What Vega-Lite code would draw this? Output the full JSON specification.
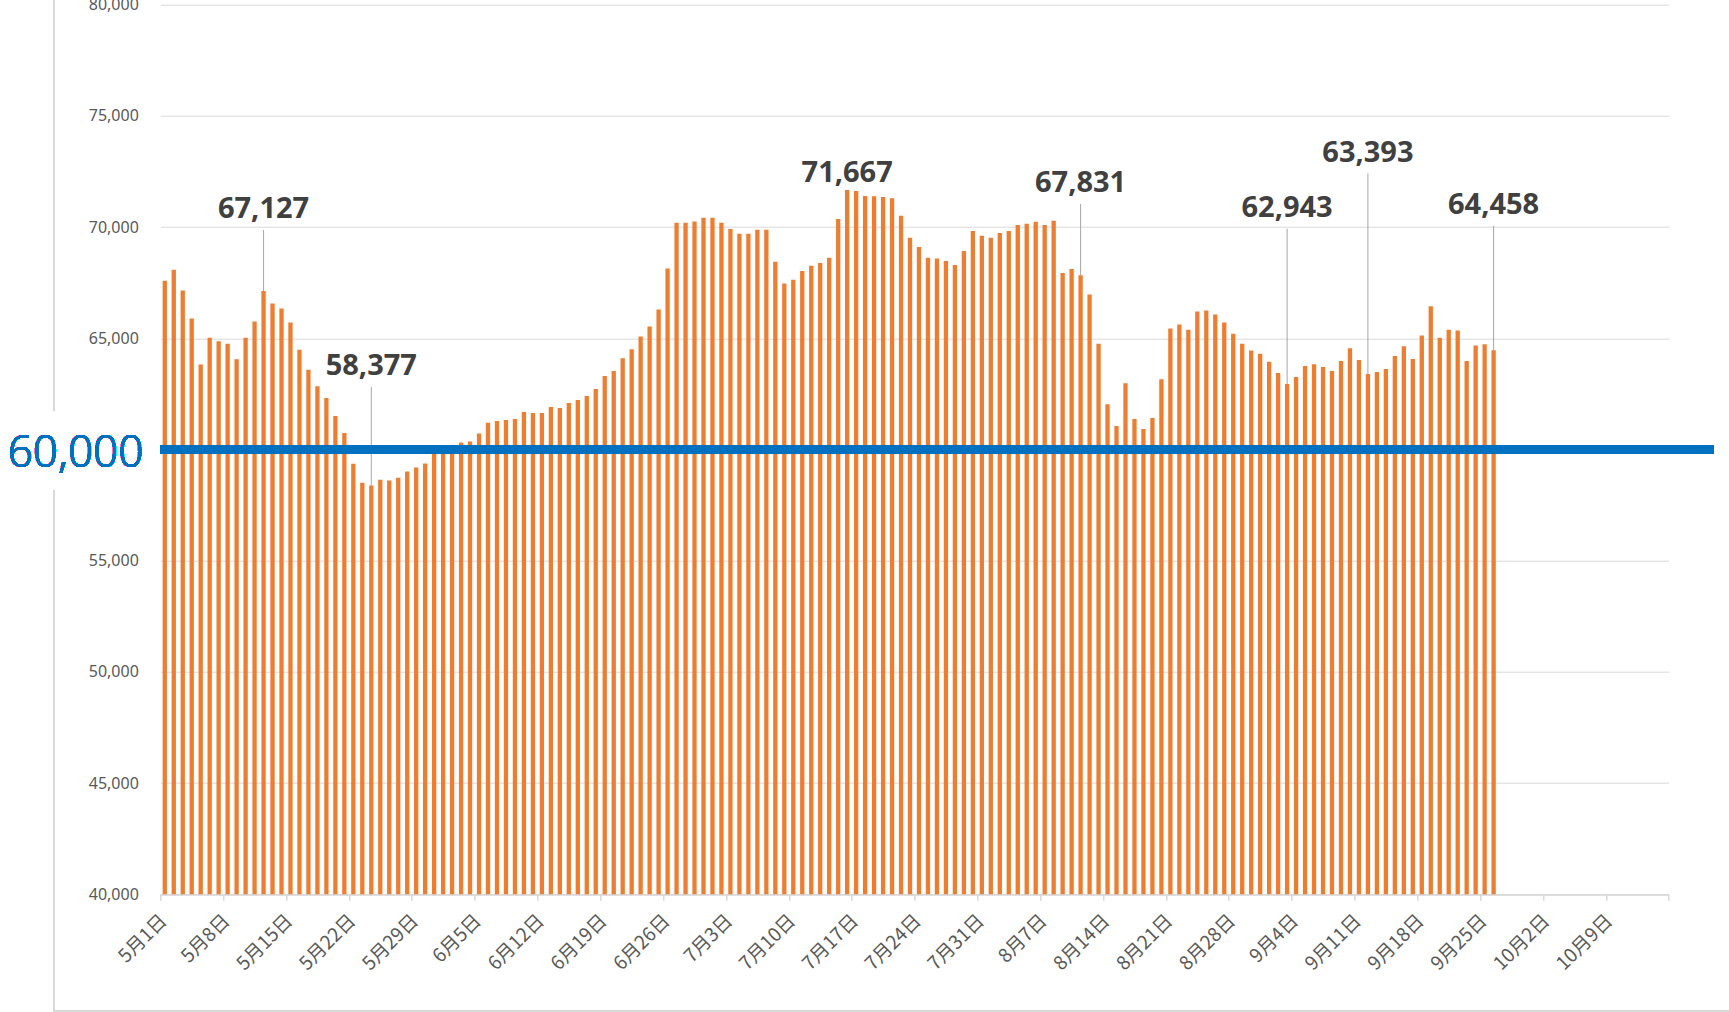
{
  "$schema": "https://vega.github.io/schema/vega-lite/v6.json",
  "width": 1508.4,
  "height": 889.6,
  "autosize": "none",
  "padding": {"left": 160.3, "top": 4.7, "right": 60.3, "bottom": 117.7},
  "background": "white",
  "config": {"view": {"stroke": null}},
  "data": {"values": [
    {"date": "2022/05/01", "v": 67590}, {"date": "2022/05/02", "v": 68080}, {"date": "2022/05/03", "v": 67150},
    {"date": "2022/05/04", "v": 65890}, {"date": "2022/05/05", "v": 63820}, {"date": "2022/05/06", "v": 65030},
    {"date": "2022/05/07", "v": 64870}, {"date": "2022/05/08", "v": 64760}, {"date": "2022/05/09", "v": 64060},
    {"date": "2022/05/10", "v": 65030}, {"date": "2022/05/11", "v": 65750}, {"date": "2022/05/12", "v": 67127, "labelAt": 69870},
    {"date": "2022/05/13", "v": 66560}, {"date": "2022/05/14", "v": 66340}, {"date": "2022/05/15", "v": 65710},
    {"date": "2022/05/16", "v": 64490}, {"date": "2022/05/17", "v": 63590}, {"date": "2022/05/18", "v": 62840},
    {"date": "2022/05/19", "v": 62320}, {"date": "2022/05/20", "v": 61510}, {"date": "2022/05/21", "v": 60740},
    {"date": "2022/05/22", "v": 59360}, {"date": "2022/05/23", "v": 58510}, {"date": "2022/05/24", "v": 58377, "labelAt": 62812},
    {"date": "2022/05/25", "v": 58640}, {"date": "2022/05/26", "v": 58610}, {"date": "2022/05/27", "v": 58730},
    {"date": "2022/05/28", "v": 59010}, {"date": "2022/05/29", "v": 59190}, {"date": "2022/05/30", "v": 59370},
    {"date": "2022/05/31", "v": 59900},
    {"date": "2022/06/01", "v": 59950}, {"date": "2022/06/02", "v": 60200}, {"date": "2022/06/03", "v": 60320},
    {"date": "2022/06/04", "v": 60360}, {"date": "2022/06/05", "v": 60720}, {"date": "2022/06/06", "v": 61200},
    {"date": "2022/06/07", "v": 61280}, {"date": "2022/06/08", "v": 61330}, {"date": "2022/06/09", "v": 61370},
    {"date": "2022/06/10", "v": 61690}, {"date": "2022/06/11", "v": 61640}, {"date": "2022/06/12", "v": 61640},
    {"date": "2022/06/13", "v": 61910}, {"date": "2022/06/14", "v": 61870}, {"date": "2022/06/15", "v": 62090},
    {"date": "2022/06/16", "v": 62230}, {"date": "2022/06/17", "v": 62410}, {"date": "2022/06/18", "v": 62720},
    {"date": "2022/06/19", "v": 63310}, {"date": "2022/06/20", "v": 63530}, {"date": "2022/06/21", "v": 64100},
    {"date": "2022/06/22", "v": 64510}, {"date": "2022/06/23", "v": 65080}, {"date": "2022/06/24", "v": 65530},
    {"date": "2022/06/25", "v": 66290}, {"date": "2022/06/26", "v": 68140}, {"date": "2022/06/27", "v": 70190},
    {"date": "2022/06/28", "v": 70190}, {"date": "2022/06/29", "v": 70250}, {"date": "2022/06/30", "v": 70420},
    {"date": "2022/07/01", "v": 70420}, {"date": "2022/07/02", "v": 70190}, {"date": "2022/07/03", "v": 69920},
    {"date": "2022/07/04", "v": 69700}, {"date": "2022/07/05", "v": 69700}, {"date": "2022/07/06", "v": 69880},
    {"date": "2022/07/07", "v": 69880}, {"date": "2022/07/08", "v": 68440}, {"date": "2022/07/09", "v": 67460},
    {"date": "2022/07/10", "v": 67630}, {"date": "2022/07/11", "v": 68030}, {"date": "2022/07/12", "v": 68260},
    {"date": "2022/07/13", "v": 68390}, {"date": "2022/07/14", "v": 68620}, {"date": "2022/07/15", "v": 70360},
    {"date": "2022/07/16", "v": 71667, "labelAt": 71525}, {"date": "2022/07/17", "v": 71620}, {"date": "2022/07/18", "v": 71400},
    {"date": "2022/07/19", "v": 71390}, {"date": "2022/07/20", "v": 71350}, {"date": "2022/07/21", "v": 71300},
    {"date": "2022/07/22", "v": 70510}, {"date": "2022/07/23", "v": 69520}, {"date": "2022/07/24", "v": 69110},
    {"date": "2022/07/25", "v": 68620}, {"date": "2022/07/26", "v": 68590}, {"date": "2022/07/27", "v": 68480},
    {"date": "2022/07/28", "v": 68300}, {"date": "2022/07/29", "v": 68930}, {"date": "2022/07/30", "v": 69830},
    {"date": "2022/07/31", "v": 69610},
    {"date": "2022/08/01", "v": 69520}, {"date": "2022/08/02", "v": 69740}, {"date": "2022/08/03", "v": 69830},
    {"date": "2022/08/04", "v": 70100}, {"date": "2022/08/05", "v": 70150}, {"date": "2022/08/06", "v": 70240},
    {"date": "2022/08/07", "v": 70100}, {"date": "2022/08/08", "v": 70280}, {"date": "2022/08/09", "v": 67940},
    {"date": "2022/08/10", "v": 68120}, {"date": "2022/08/11", "v": 67831, "labelAt": 71040}, {"date": "2022/08/12", "v": 66970},
    {"date": "2022/08/13", "v": 64760}, {"date": "2022/08/14", "v": 62030}, {"date": "2022/08/15", "v": 61060},
    {"date": "2022/08/16", "v": 62980}, {"date": "2022/08/17", "v": 61370}, {"date": "2022/08/18", "v": 60920},
    {"date": "2022/08/19", "v": 61420}, {"date": "2022/08/20", "v": 63160}, {"date": "2022/08/21", "v": 65440},
    {"date": "2022/08/22", "v": 65620}, {"date": "2022/08/23", "v": 65390}, {"date": "2022/08/24", "v": 66200},
    {"date": "2022/08/25", "v": 66250}, {"date": "2022/08/26", "v": 66070}, {"date": "2022/08/27", "v": 65710},
    {"date": "2022/08/28", "v": 65210}, {"date": "2022/08/29", "v": 64760}, {"date": "2022/08/30", "v": 64450},
    {"date": "2022/08/31", "v": 64310},
    {"date": "2022/09/01", "v": 63950}, {"date": "2022/09/02", "v": 63440}, {"date": "2022/09/03", "v": 62943, "labelAt": 69929},
    {"date": "2022/09/04", "v": 63260}, {"date": "2022/09/05", "v": 63750}, {"date": "2022/09/06", "v": 63830},
    {"date": "2022/09/07", "v": 63710}, {"date": "2022/09/08", "v": 63530}, {"date": "2022/09/09", "v": 63980},
    {"date": "2022/09/10", "v": 64550}, {"date": "2022/09/11", "v": 64020}, {"date": "2022/09/12", "v": 63393, "labelAt": 72420},
    {"date": "2022/09/13", "v": 63480}, {"date": "2022/09/14", "v": 63620}, {"date": "2022/09/15", "v": 64200},
    {"date": "2022/09/16", "v": 64640}, {"date": "2022/09/17", "v": 64070}, {"date": "2022/09/18", "v": 65130},
    {"date": "2022/09/19", "v": 66440}, {"date": "2022/09/20", "v": 65030}, {"date": "2022/09/21", "v": 65390},
    {"date": "2022/09/22", "v": 65350}, {"date": "2022/09/23", "v": 63980}, {"date": "2022/09/24", "v": 64680},
    {"date": "2022/09/25", "v": 64730}, {"date": "2022/09/26", "v": 64458, "labelAt": 70050}
  ]},
  "layer": [
    {
      "mark": {"type": "rect", "fill": null, "stroke": "#D9D9D9", "strokeWidth": 2},
      "encoding": {
        "x": {"datum": {"year": 2022, "month": 4, "date": 19, "hours": 3, "minutes": 52}, "type": "temporal"},
        "x2": {"datum": {"year": 2022, "month": 12, "date": 31}},
        "y": {"datum": 34753, "type": "quantitative"},
        "y2": {"datum": 90000}
      }
    },
    {
      "mark": {"type": "rect", "fill": "white"},
      "encoding": {
        "x": {"datum": {"year": 2022, "month": 4, "date": 16}, "type": "temporal"},
        "x2": {"datum": {"year": 2022, "month": 4, "date": 30}},
        "y": {"datum": 58200, "type": "quantitative"},
        "y2": {"datum": 61700}
      }
    },
    {
      "transform": [{"filter": "isValid(datum.labelAt)"}],
      "mark": {"type": "rule", "color": "#A6A6A6", "strokeWidth": 1},
      "encoding": {
        "x": {"field": "date", "timeUnit": "yearmonthdate", "type": "temporal", "bandPosition": 0.5},
        "y": {"field": "labelAt", "type": "quantitative"},
        "y2": {"field": "v"}
      }
    },
    {
      "mark": {"type": "bar", "color": "#ED7D31", "width": 4.3},
      "encoding": {
        "x": {
          "field": "date", "timeUnit": "yearmonthdate", "type": "temporal", "bandPosition": 0.5,
          "scale": {"domain": [{"year": 2022, "month": 5, "date": 1}, {"year": 2022, "month": 10, "date": 16}], "nice": false},
          "axis": {
            "title": null,
            "tickCount": {"interval": "week", "step": 1},
            "labelExpr": "datum.value >= datetime(2022, 9, 16) ? '' : (month(datum.value) + 1) + '月' + date(datum.value) + '日'",
            "labelAngle": -45, "labelAlign": "right", "labelBaseline": "middle",
            "labelPadding": 17, "labelOffset": 3,
            "labelFont": "Noto Sans CJK JP", "labelFontSize": 19, "labelColor": "#595959",
            "labelOverlap": false, "labelFlush": false, "labelBound": false,
            "domainColor": "#D9D9D9", "domainWidth": 1.5,
            "tickColor": "#D9D9D9", "tickWidth": 1.5, "tickSize": 6,
            "grid": false
          }
        },
        "y": {
          "field": "v", "type": "quantitative",
          "scale": {"domain": [40000, 80000], "nice": false, "zero": false},
          "axis": {
            "title": null,
            "values": [40000, 45000, 50000, 55000, 65000, 70000, 75000, 80000],
            "format": ",d",
            "domain": false, "ticks": false, "labelPadding": 22,
            "labelFont": "Noto Sans", "labelFontSize": 16, "labelColor": "#595959",
            "grid": true, "gridColor": "#D9D9D9", "gridWidth": 1
          }
        },
        "y2": {"datum": 40000}
      }
    },
    {
      "mark": {"type": "rule", "color": "#0070C0", "strokeWidth": 7.5},
      "encoding": {
        "x": {"datum": {"year": 2022, "month": 5, "date": 1}, "type": "temporal"},
        "x2": {"datum": {"year": 2022, "month": 10, "date": 21}},
        "y": {"datum": 60000, "type": "quantitative"}
      }
    },
    {
      "mark": {"type": "text", "text": "60,000", "font": "Noto Sans", "fontWeight": 300, "fontSize": 44, "color": "#0070C0", "align": "right", "baseline": "alphabetic", "dx": -17, "dy": 17},
      "encoding": {
        "x": {"datum": {"year": 2022, "month": 5, "date": 1}, "type": "temporal"},
        "y": {"datum": 60000, "type": "quantitative"}
      }
    },
    {
      "transform": [{"filter": "isValid(datum.labelAt)"}],
      "mark": {"type": "text", "font": "Open Sans", "fontWeight": "bold", "fontSize": 29, "color": "#404040", "align": "center", "baseline": "alphabetic", "dy": -11.5},
      "encoding": {
        "x": {"field": "date", "timeUnit": "yearmonthdate", "type": "temporal", "bandPosition": 0.5},
        "y": {"field": "labelAt", "type": "quantitative"},
        "text": {"field": "v", "type": "quantitative", "format": ","}
      }
    }
  ]
}
